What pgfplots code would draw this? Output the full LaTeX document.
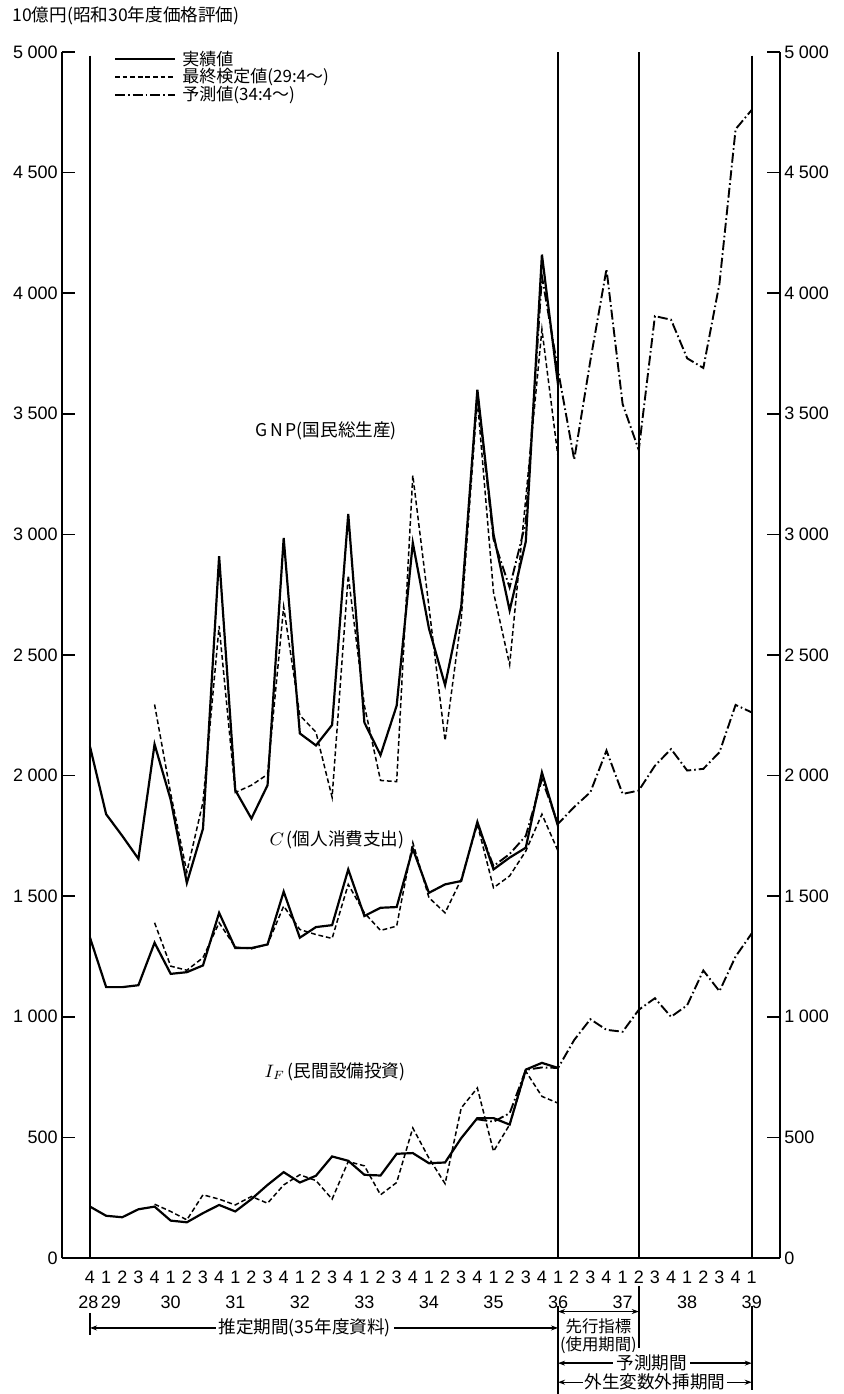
\documentclass[border=0pt]{standalone}
\usepackage{pgfplots}
\pgfplotsset{compat=1.18}
\usepackage{fontspec}
\setmainfont{Liberation Sans}
\newfontfamily\jp{Noto Sans CJK JP}
\usetikzlibrary{arrows.meta}
\tikzset{
  act/.style={line width=1.1pt},
  tst/.style={line width=0.75pt, dash pattern=on 2.4pt off 1.4pt},
  fct/.style={line width=0.95pt, dash pattern=on 5pt off 1.5pt on 0.8pt off 1.5pt},
  vl/.style={line width=1pt},
  arr/.style={line width=0.7pt, {Stealth[length=3.5pt,width=2.5pt]}-{Stealth[length=3.5pt,width=2.5pt]}},
  yr/.style={font=\fontsize{9}{10}\selectfont, anchor=base},
  lg/.style={anchor=west, font=\jp\fontsize{8.5}{9}\selectfont, inner sep=0pt},
}
\newcommand{\tfont}{\fontsize{9}{10}\selectfont}
\newcommand{\jfont}{\jp\fontsize{8.8}{10}\selectfont}
\begin{document}
\begin{tikzpicture}[x=1pt,y=1pt]
\useasboundingbox (-31,-68) rectangle (391,629);
\begin{axis}[at={(0,0)}, anchor=south west, scale only axis,
  width=359pt, height=603pt,
  xmin=-1.735, xmax=42.75, ymin=0, ymax=5000, clip=false,
  axis x line=bottom, axis y line=left,
  axis line style={-, line width=1pt},
  tick align=inside, major tick length=6.5pt,
  tick style={line width=0.8pt, black},
  major x tick style={draw=none},
  ytick={0,500,...,5000},
  yticklabels={0,500,1\hspace{0.25em}000,1\hspace{0.25em}500,2\hspace{0.25em}000,2\hspace{0.25em}500,3\hspace{0.25em}000,3\hspace{0.25em}500,4\hspace{0.25em}000,4\hspace{0.25em}500,5\hspace{0.25em}000},
  yticklabel style={font=\tfont, inner sep=2pt},
  xtick={0,...,41},
  xticklabels={4,1,2,3,4,1,2,3,4,1,2,3,4,1,2,3,4,1,2,3,4,1,2,3,4,1,2,3,4,1,2,3,4,1,2,3,4,1,2,3,4,1},
  xticklabel style={font=\tfont, anchor=base, yshift=-12.5pt},
]
% GNP actual
\addplot[act] coordinates {(0,2120)(1,1840)(2,1750)(3,1655)(4,2130)(5,1900)(6,1555)(7,1780)(8,2910)(9,1940)(10,1822)(11,1960)(12,2985)(13,2175)(14,2125)(15,2210)(16,3085)(17,2220)(18,2085)(19,2290)(20,2965)(21,2610)(22,2375)(23,2700)(24,3600)(25,3000)(26,2685)(27,2970)(28,4160)(29,3620)};
% GNP final test
\addplot[tst] coordinates {(4,2295)(5,1925)(6,1600)(7,1890)(8,2620)(9,1930)(10,1960)(11,2005)(12,2700)(13,2250)(14,2180)(15,1910)(16,2830)(17,2290)(18,1980)(19,1975)(20,3245)(21,2700)(22,2145)(23,2650)(24,3560)(25,2760)(26,2460)(27,3150)(28,3850)(29,3320)};
% GNP forecast
\addplot[fct] coordinates {(24,3590)(25,2980)(26,2780)(27,3050)(28,4070)(29,3680)(30,3310)(31,3720)(32,4100)(33,3540)(34,3350)(35,3905)(36,3890)(37,3730)(38,3690)(39,4040)(40,4680)(41,4760)};
% C actual
\addplot[act] coordinates {(0,1328)(1,1123)(2,1123)(3,1131)(4,1307)(5,1178)(6,1185)(7,1213)(8,1431)(9,1285)(10,1285)(11,1300)(12,1519)(13,1328)(14,1372)(15,1380)(16,1611)(17,1418)(18,1452)(19,1455)(20,1697)(21,1514)(22,1549)(23,1563)(24,1808)(25,1611)(26,1660)(27,1701)(28,2013)(29,1790)};
% C final test
\addplot[tst] coordinates {(4,1390)(5,1210)(6,1193)(7,1245)(8,1390)(9,1289)(10,1282)(11,1300)(12,1459)(13,1362)(14,1341)(15,1325)(16,1549)(17,1431)(18,1358)(19,1376)(20,1722)(21,1494)(22,1431)(23,1570)(24,1798)(25,1535)(26,1584)(27,1687)(28,1840)(29,1687)};
% C forecast
\addplot[fct] coordinates {(24,1800)(25,1625)(26,1675)(27,1750)(28,1985)(29,1800)(30,1870)(31,1931)(32,2104)(33,1924)(34,1938)(35,2041)(36,2110)(37,2021)(38,2028)(39,2097)(40,2293)(41,2262)};
% I actual
\addplot[act] coordinates {(0,213)(1,175)(2,169)(3,202)(4,213)(5,155)(6,148)(7,186)(8,220)(9,193)(10,244)(11,303)(12,356)(13,313)(14,341)(15,421)(16,403)(17,345)(18,342)(19,432)(20,435)(21,393)(22,396)(23,497)(24,580)(25,580)(26,553)(27,781)(28,809)(29,788)};
% I final test
\addplot[tst] coordinates {(4,223)(5,193)(6,158)(7,262)(8,244)(9,220)(10,255)(11,227)(12,303)(13,345)(14,321)(15,244)(16,400)(17,382)(18,262)(19,313)(20,539)(21,414)(22,308)(23,622)(24,705)(25,442)(26,553)(27,774)(28,670)(29,642)};
% I forecast
\addplot[fct] coordinates {(24,575)(25,565)(26,600)(27,780)(28,790)(29,788)(30,904)(31,990)(32,946)(33,938)(34,1029)(35,1077)(36,1000)(37,1048)(38,1192)(39,1106)(40,1250)(41,1346)};

% vertical period lines (broken at the tick label rows)
\draw[vl] (axis cs:0,4985) -- (axis cs:0,0);
\draw[vl] (axis cs:0,-228) -- (axis cs:0,-320);
\draw[vl] (axis cs:29,5000) -- (axis cs:29,0);
\draw[vl] (axis cs:29,-200) -- (axis cs:29,-565);
\draw[vl] (axis cs:34,5000) -- (axis cs:34,0);
\draw[vl] (axis cs:34,-118) -- (axis cs:34,-375);
\draw[vl] (axis cs:41,4985) -- (axis cs:41,0);
\draw[vl] (axis cs:41,-200) -- (axis cs:41,-548);

% year labels
\node[yr] at (axis cs:-0.1,-210) {28};
\node[yr] at (axis cs:1.3,-210) {29};
\node[yr] at (axis cs:5,-210) {30};
\node[yr] at (axis cs:9,-210) {31};
\node[yr] at (axis cs:13,-210) {32};
\node[yr] at (axis cs:17,-210) {33};
\node[yr] at (axis cs:21,-210) {34};
\node[yr] at (axis cs:25,-210) {35};
\node[yr] at (axis cs:29,-210) {36};
\node[yr] at (axis cs:33,-210) {37};
\node[yr] at (axis cs:37,-210) {38};
\node[yr] at (axis cs:41,-210) {39};

% legend
\draw[act] (axis cs:1.55,4971) -- (axis cs:5.27,4971);
\draw[tst] (axis cs:1.55,4896) -- (axis cs:5.27,4896);
\draw[fct] (axis cs:1.55,4821) -- (axis cs:5.27,4821);
\node[lg] at (axis cs:5.7,4971) {実績値};
\node[lg] at (axis cs:5.7,4896) {最終検定値(29:4～)};
\node[lg] at (axis cs:5.7,4821) {予測値(34:4～)};

% axis unit
\node[anchor=west, font=\jfont, inner sep=0pt] at (axis cs:-4.83,5149) {10億円(昭和30年度価格評価)};

% series labels
\node[anchor=west, font=\jfont, inner sep=0pt] at (axis cs:10.2,3430) {G\,N\,P(国民総生産)};
\node[anchor=west, font=\jfont, inner sep=0pt] at (axis cs:11.1,1732) {$C$\,(個人消費支出)};
\node[anchor=west, font=\jfont, inner sep=0pt] at (axis cs:10.8,772) {$I_F$\,(民間設備投資)};

% period annotations
\draw[arr] (axis cs:0,-290) -- (axis cs:29,-290);
\node[fill=white, inner sep=1.5pt, font=\jfont] at (axis cs:13.3,-290) {推定期間(35年度資料)};
\draw[arr] (axis cs:29,-222) -- (axis cs:34,-222);
\node[font=\jp\fontsize{8.2}{9}\selectfont, inner sep=0pt] at (axis cs:31.5,-285) {先行指標};
\node[font=\jp\fontsize{8.2}{9}\selectfont, inner sep=0pt] at (axis cs:31.5,-360) {(使用期間)};
\draw[arr] (axis cs:29,-436) -- (axis cs:41,-436);
\node[fill=white, inner sep=1.5pt, font=\jfont] at (axis cs:34.8,-436) {予測期間};
\draw[arr] (axis cs:29,-515) -- (axis cs:41,-515);
\node[fill=white, inner sep=1pt, font=\jfont] at (axis cs:35,-515) {外生変数外挿期間};
\end{axis}
\begin{axis}[at={(0,0)}, anchor=south west, scale only axis,
  width=359pt, height=603pt,
  xmin=-1.735, xmax=42.75, ymin=0, ymax=5000,
  axis x line=none, axis y line=right,
  axis line style={-, line width=1pt},
  tick align=inside, major tick length=6.5pt,
  tick style={line width=0.8pt, black},
  ytick={0,500,...,5000},
  yticklabels={0,500,1\hspace{0.25em}000,1\hspace{0.25em}500,2\hspace{0.25em}000,2\hspace{0.25em}500,3\hspace{0.25em}000,3\hspace{0.25em}500,4\hspace{0.25em}000,4\hspace{0.25em}500,5\hspace{0.25em}000},
  yticklabel style={font=\tfont, inner sep=2pt},
]
\addplot[draw=none] coordinates {(0,0)};
\end{axis}
\end{tikzpicture}
\end{document}
